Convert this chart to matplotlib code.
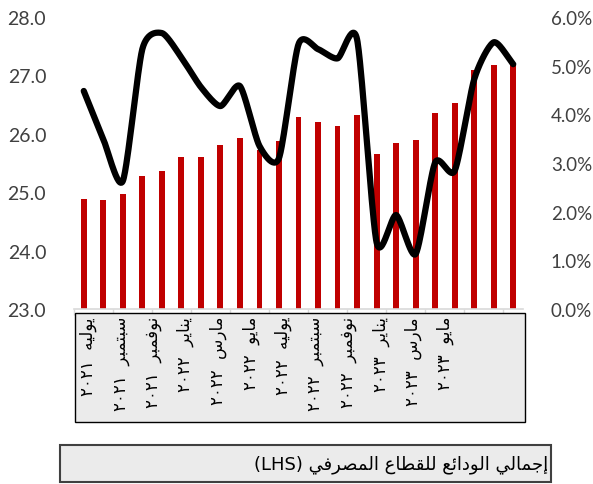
import numpy as np
import matplotlib
matplotlib.use("Agg")
import matplotlib.pyplot as plt
from matplotlib.patches import Rectangle
from matplotlib.ticker import FuncFormatter

# ---- data -------------------------------------------------------------
deposits = [24.88, 24.86, 24.97, 25.28, 25.36, 25.61, 25.61, 25.81, 25.92,
            25.72, 25.87, 26.29, 26.20, 26.14, 26.33, 25.65, 25.85, 25.89,
            26.36, 26.53, 27.09, 27.17, 27.17]
growth_pct = [4.48, 3.49, 2.63, 5.34, 5.67, 5.17, 4.56, 4.17, 4.58, 3.35,
              3.10, 5.44, 5.34, 5.15, 5.54, 1.37, 1.93, 1.13, 3.01, 2.84,
              4.72, 5.48, 5.03]
tick_labels = ["يوليه ٢٠٢١", "سبتمبر ٢٠٢١", "نوفمبر ٢٠٢١", "يناير ٢٠٢٢",
               "مارس ٢٠٢٢", "مايو ٢٠٢٢", "يوليه ٢٠٢٢", "سبتمبر ٢٠٢٢",
               "نوفمبر ٢٠٢٢", "يناير ٢٠٢٣", "مارس ٢٠٢٣", "مايو ٢٠٢٣"]
legend_label = "إجمالي الودائع للقطاع المصرفي (LHS)"

# ---- minimal Arabic shaping (matplotlib has no complex text layout) ----
# (isolated, final, initial, medial); None for right-joining letters
FORMS = {
    "ا": (0xFE8D, 0xFE8E, None, None), "إ": (0xFE87, 0xFE88, None, None),
    "د": (0xFEA9, 0xFEAA, None, None), "ر": (0xFEAD, 0xFEAE, None, None),
    "و": (0xFEED, 0xFEEE, None, None),
    "ب": (0xFE8F, 0xFE90, 0xFE91, 0xFE92), "ت": (0xFE95, 0xFE96, 0xFE97, 0xFE98),
    "ج": (0xFE9D, 0xFE9E, 0xFE9F, 0xFEA0), "س": (0xFEB1, 0xFEB2, 0xFEB3, 0xFEB4),
    "ص": (0xFEB9, 0xFEBA, 0xFEBB, 0xFEBC), "ط": (0xFEC1, 0xFEC2, 0xFEC3, 0xFEC4),
    "ع": (0xFEC9, 0xFECA, 0xFECB, 0xFECC), "ف": (0xFED1, 0xFED2, 0xFED3, 0xFED4),
    "ق": (0xFED5, 0xFED6, 0xFED7, 0xFED8), "ل": (0xFEDD, 0xFEDE, 0xFEDF, 0xFEE0),
    "م": (0xFEE1, 0xFEE2, 0xFEE3, 0xFEE4), "ن": (0xFEE5, 0xFEE6, 0xFEE7, 0xFEE8),
    "ه": (0xFEE9, 0xFEEA, 0xFEEB, 0xFEEC), "ي": (0xFEF1, 0xFEF2, 0xFEF3, 0xFEF4),
    "ئ": (0xFE89, 0xFE8A, 0xFE8B, 0xFE8C),
}


def shape_word(w):
    out = []
    for i, c in enumerate(w):
        if c not in FORMS:
            out.append(c)
            continue
        prev = w[i - 1] if i > 0 else None
        nxt = w[i + 1] if i < len(w) - 1 else None
        jp = prev in FORMS and FORMS[prev][2] is not None
        jn = FORMS[c][2] is not None and nxt in FORMS
        f = FORMS[c]
        code = f[3] if (jp and jn) else f[1] if jp else f[2] if jn else f[0]
        out.append(chr(code))
    return "".join(out)


def visual(text, gap=" "):
    tokens = []
    for tok in text.split(" "):
        if any(ch in FORMS for ch in tok):
            tokens.append(shape_word(tok)[::-1])
        else:
            tokens.append(tok)
    return gap.join(tokens[::-1])


# ---- figure -----------------------------------------------------------
W, H = 593, 485
fig = plt.figure(figsize=(W / 100, H / 100), dpi=100)
num_font = ["Lato", "DejaVu Sans"]
ar_font = ["DejaVu Sans"]

ax = fig.add_axes([74 / W, 1 - 310 / H, (523 - 74) / W, (310 - 18) / H])
x = np.arange(len(deposits))
ax.bar(x, np.array(deposits) - 23.0, bottom=23.0, width=0.3, color="#C00000", zorder=2)
ax.set_xlim(-0.5, len(deposits) - 0.5)
ax.set_ylim(23, 28)
ax.set_yticks(np.arange(23, 28.01, 1))
ax.yaxis.set_major_formatter(FuncFormatter(lambda v, p: f"{v:.1f}"))
for s in ["top", "right", "left"]:
    ax.spines[s].set_visible(False)
ax.spines["bottom"].set_color("#D9D9D9")
ax.spines["bottom"].set_linewidth(1.2)
ax.tick_params(axis="y", length=0, pad=20, labelsize=14, labelcolor="#404040")
ax.set_xticks(np.arange(-0.5, len(deposits), 2))
ax.set_xticklabels([])
ax.tick_params(axis="x", length=4, color="#D9D9D9", width=1)
for lab in ax.get_yticklabels():
    lab.set_family(num_font)

# smooth growth curve (cubic Hermite through each month's value)
ax2 = ax.twinx()
px = x.astype(float)
py = np.array(growth_pct, dtype=float)
k = 0.36
mx = np.gradient(px) * 2 * k
my = np.empty_like(py)
my[1:-1] = k * (py[2:] - py[:-2])
my[0] = k * 2 * (py[1] - py[0])
my[-1] = k * 2 * (py[-1] - py[-2])
t = np.linspace(0, 1, 30)[:-1]
h00 = 2 * t**3 - 3 * t**2 + 1
h10 = t**3 - 2 * t**2 + t
h01 = -2 * t**3 + 3 * t**2
h11 = t**3 - t**2
cx, cy = [], []
for i in range(len(px) - 1):
    cx.extend(h00 * px[i] + h10 * mx[i] + h01 * px[i + 1] + h11 * mx[i + 1])
    cy.extend(h00 * py[i] + h10 * my[i] + h01 * py[i + 1] + h11 * my[i + 1])
cx.append(px[-1])
cy.append(py[-1])
ax2.plot(cx, cy, color="black", lw=4.5, solid_capstyle="round", zorder=3)
ax2.set_ylim(0, 6)
ax2.set_yticks(np.arange(0, 6.01, 1))
ax2.yaxis.set_major_formatter(FuncFormatter(lambda v, p: f"{v:.1f}%"))
for s in ["top", "right", "left", "bottom"]:
    ax2.spines[s].set_visible(False)
ax2.tick_params(axis="y", length=0, pad=20, labelsize=13.5, labelcolor="#404040")
for lab in ax2.get_yticklabels():
    lab.set_family(num_font)

# category label panel
bx0, bx1, by_top, by_bot = 75, 525, 314, 423
fig.patches.append(Rectangle((bx0 / W, 1 - by_bot / H), (bx1 - bx0) / W, (by_bot - by_top) / H,
                             transform=fig.transFigure, facecolor="#EBEBEB",
                             edgecolor="black", lw=1.0))
for i, lab in enumerate(tick_labels):
    xp = 88 + 32.5 * i
    fig.text(xp / W, 1 - 317 / H, visual(lab, gap="  "), rotation=90, ha="center", va="top",
             fontsize=12, family=ar_font, color="black")

# legend panel
lx0, lx1, ly_top, ly_bot = 60, 551, 446, 483
fig.patches.append(Rectangle((lx0 / W, 1 - ly_bot / H), (lx1 - lx0) / W, (ly_bot - ly_top) / H,
                             transform=fig.transFigure, facecolor="#EBEBEB",
                             edgecolor="#404040", lw=1.5))
fig.text(548 / W, 1 - 465 / H, visual(legend_label), ha="right", va="center",
         fontsize=13, family=ar_font, color="black")

fig.savefig("out.png", dpi=100)
